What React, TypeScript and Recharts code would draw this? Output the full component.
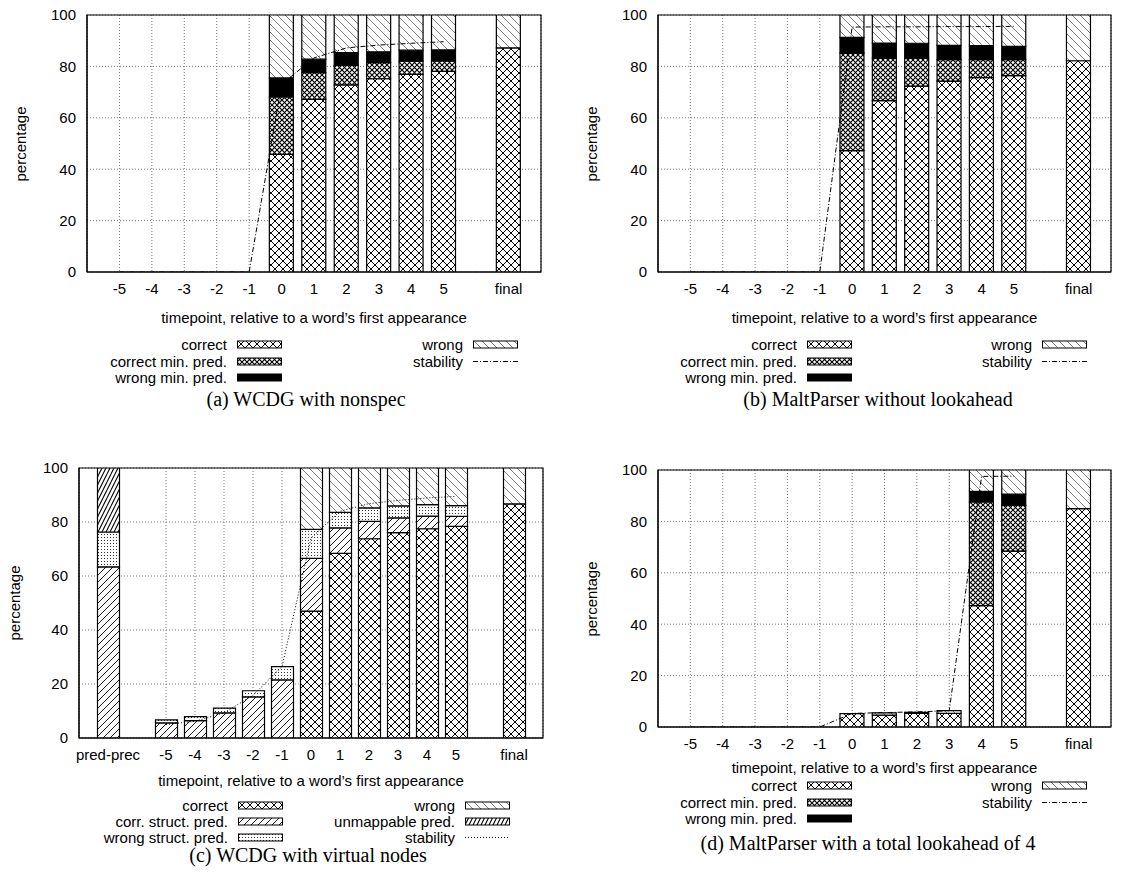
import React from 'react';
import { ComposedChart, Bar, Line, XAxis, YAxis, CartesianGrid, ReferenceArea } from 'recharts';

const SANS = '"Liberation Sans", Arial, Helvetica, sans-serif';
const SERIF = '"Liberation Serif", "Times New Roman", Times, serif';
const FS = 15;

const TIMEPOINTS = ['-5', '-4', '-3', '-2', '-1', '0', '1', '2', '3', '4', '5', 'final'];
const TIMEPOINTS_C = ['pred-prec', ...TIMEPOINTS];
const Y_TICKS = [0, 20, 40, 60, 80, 100];

// (a) WCDG with nonspec
const A_CORRECT = [0, 0, 0, 0, 0, 45.8, 67.2, 72.8, 75.2, 76.9, 78.1, 87.2];
const A_CORR_MIN = [0, 0, 0, 0, 0, 22.3, 10.4, 7.6, 6.3, 5.1, 4.0, 0];
const A_WRONG_MIN = [0, 0, 0, 0, 0, 7.4, 5.2, 5.0, 4.2, 4.3, 4.3, 0];
const A_WRONG = [0, 0, 0, 0, 0, 24.5, 17.2, 14.6, 14.3, 13.7, 13.6, 12.8];
const A_STABILITY = [0, 0, 0, 0, 0, 73.0, 83.3, 87.2, 88.3, 89.0, 89.6, null];

// (b) MaltParser without lookahead
const B_CORRECT = [0, 0, 0, 0, 0, 47.2, 66.7, 72.3, 74.3, 75.6, 76.4, 82.2];
const B_CORR_MIN = [0, 0, 0, 0, 0, 38.0, 16.5, 10.9, 8.3, 7.0, 6.2, 0];
const B_WRONG_MIN = [0, 0, 0, 0, 0, 6.1, 5.9, 5.8, 5.6, 5.5, 5.2, 0];
const B_WRONG = [0, 0, 0, 0, 0, 8.7, 10.9, 11.0, 11.8, 11.9, 12.2, 17.8];
const B_STABILITY = [0, 0, 0, 0, 0, 95.3, 95.4, 95.4, 95.5, 95.5, 95.6, null];

// (c) WCDG with virtual nodes
const C_CORRECT = [0, 0, 0, 0, 0, 0, 47.0, 68.4, 73.8, 76.1, 77.5, 78.4, 86.7];
const C_CORR_STRUCT = [63.4, 5.6, 6.4, 9.3, 15.2, 21.5, 19.5, 9.4, 6.4, 5.4, 4.7, 3.7, 0];
const C_WRONG_STRUCT = [12.9, 1.1, 1.5, 1.8, 2.3, 4.9, 10.8, 5.8, 5.0, 4.5, 4.2, 4.0, 0];
const C_WRONG = [0, 0, 0, 0, 0, 0, 22.7, 16.4, 14.8, 14.0, 13.6, 13.9, 13.3];
const C_UNMAPPABLE = [23.7, 0, 0, 0, 0, 0, 0, 0, 0, 0, 0, 0, 0];
const C_STABILITY = [null, 5.0, 6.2, 9.3, 15.8, 26.4, 74.0, 84.0, 86.8, 88.0, 88.9, 89.5, null];

// (d) MaltParser with a total lookahead of 4
const D_CORRECT = [0, 0, 0, 0, 0, 5.2, 4.6, 5.3, 5.3, 47.2, 68.4, 85.0];
const D_CORR_MIN = [0, 0, 0, 0, 0, 0, 0, 0, 0, 40.4, 17.8, 0];
const D_WRONG_MIN = [0, 0, 0, 0, 0, 0, 0, 0, 0, 4.1, 4.4, 0];
const D_WRONG = [0, 0, 0, 0, 0, 0, 0.9, 0.4, 1.1, 8.3, 9.4, 15.0];
const D_STABILITY = [0, 0, 0, 0, 0, 5.3, 5.6, 5.9, 6.3, 97.5, 97.6, null];

type Num = number | null;
type Series = { key: string; name: string; fill: string };

const SERIES_MIN: Series[] = [
  { key: 'correct', name: 'correct', fill: 'url(#pat-correct)' },
  { key: 'corrMin', name: 'correct min. pred.', fill: 'url(#pat-corrmin)' },
  { key: 'wrongMin', name: 'wrong min. pred.', fill: '#000' },
  { key: 'wrong', name: 'wrong', fill: 'url(#pat-wrong)' },
];

const SERIES_STRUCT: Series[] = [
  { key: 'correct', name: 'correct', fill: 'url(#pat-correct)' },
  { key: 'corrStruct', name: 'corr. struct. pred.', fill: 'url(#pat-corrstruct)' },
  { key: 'wrongStruct', name: 'wrong struct. pred.', fill: 'url(#pat-wrongstruct)' },
  { key: 'wrong', name: 'wrong', fill: 'url(#pat-wrong)' },
  { key: 'unmappable', name: 'unmappable pred.', fill: 'url(#pat-unmap)' },
];

const slotOf = (label: string) => (label === 'final' ? 7 : label === 'pred-prec' ? -7 : Number(label));

function buildRows(labels: string[], cols: Record<string, Num[]>) {
  return labels.map((label, i) => {
    const row: Record<string, string | number | null> = { x: slotOf(label), label };
    Object.keys(cols).forEach((k) => {
      row[k] = cols[k][i];
    });
    return row;
  });
}

const DASHDOT = '5 2 1 2';
const DOTTED = '1 2';

const PANELS = [
  {
    id: 'a',
    plot: { x: 87, y: 15, w: 454, h: 257 },
    xDomain: [-6, 8],
    labels: TIMEPOINTS,
    series: SERIES_MIN,
    rows: buildRows(TIMEPOINTS, {
      correct: A_CORRECT, corrMin: A_CORR_MIN, wrongMin: A_WRONG_MIN, wrong: A_WRONG, stability: A_STABILITY,
    }),
    barSize: 24,
    dash: DASHDOT,
    yLabelX: 20,
    titleY: 316.5,
    legend: { leftX: 227, rightX: 463, rows: [344, 361, 377] },
    caption: '(a) WCDG with nonspec',
    captionX: 306,
    captionY: 399,
  },
  {
    id: 'b',
    plot: { x: 658, y: 15, w: 453, h: 257 },
    xDomain: [-6, 8],
    labels: TIMEPOINTS,
    series: SERIES_MIN,
    rows: buildRows(TIMEPOINTS, {
      correct: B_CORRECT, corrMin: B_CORR_MIN, wrongMin: B_WRONG_MIN, wrong: B_WRONG, stability: B_STABILITY,
    }),
    barSize: 24,
    dash: DASHDOT,
    yLabelX: 591,
    titleY: 316.5,
    legend: { leftX: 797, rightX: 1032, rows: [344, 361, 377] },
    caption: '(b) MaltParser without lookahead',
    captionX: 878,
    captionY: 399,
  },
  {
    id: 'c',
    plot: { x: 79, y: 468, w: 464, h: 270 },
    xDomain: [-8, 8],
    labels: TIMEPOINTS_C,
    series: SERIES_STRUCT,
    rows: buildRows(TIMEPOINTS_C, {
      correct: C_CORRECT, corrStruct: C_CORR_STRUCT, wrongStruct: C_WRONG_STRUCT, wrong: C_WRONG,
      unmappable: C_UNMAPPABLE, stability: C_STABILITY,
    }),
    barSize: 22,
    dash: DOTTED,
    yLabelX: 14,
    titleY: 780,
    legend: { leftX: 228, rightX: 455, rows: [805, 821, 837] },
    caption: '(c) WCDG with virtual nodes',
    captionX: 308,
    captionY: 855,
  },
  {
    id: 'd',
    plot: { x: 658, y: 470, w: 453, h: 257 },
    xDomain: [-6, 8],
    labels: TIMEPOINTS,
    series: SERIES_MIN,
    rows: buildRows(TIMEPOINTS, {
      correct: D_CORRECT, corrMin: D_CORR_MIN, wrongMin: D_WRONG_MIN, wrong: D_WRONG, stability: D_STABILITY,
    }),
    barSize: 24,
    dash: DASHDOT,
    yLabelX: 591,
    titleY: 767,
    legend: { leftX: 797, rightX: 1032, rows: [785, 802, 818] },
    caption: '(d) MaltParser with a total lookahead of 4',
    captionX: 868,
    captionY: 843,
  },
];

type PanelCfg = (typeof PANELS)[number];

function Patterns() {
  return (
    <svg width={0} height={0} style={{ position: 'absolute' }}>
      <defs>
        <pattern id="pat-correct" width={8} height={8} patternUnits="userSpaceOnUse">
          <rect width={8} height={8} fill="#fff" />
          <path d="M0,0 L8,8 M8,0 L0,8" stroke="#000" strokeWidth={1} />
        </pattern>
        <pattern id="pat-corrmin" width={5} height={5} patternUnits="userSpaceOnUse">
          <rect width={5} height={5} fill="#fff" />
          <path d="M0,0 L5,5 M5,0 L0,5" stroke="#000" strokeWidth={1.15} />
        </pattern>
        <pattern id="pat-wrong" width={8} height={8} patternUnits="userSpaceOnUse">
          <rect width={8} height={8} fill="#fff" />
          <path d="M0,0 L8,8 M-2,6 L2,10 M6,-2 L10,2" stroke="#444" strokeWidth={0.7} />
        </pattern>
        <pattern id="pat-corrstruct" width={7} height={7} patternUnits="userSpaceOnUse">
          <rect width={7} height={7} fill="#fff" />
          <path d="M0,7 L7,0 M-2,2 L2,-2 M5,9 L9,5" stroke="#000" strokeWidth={0.9} />
        </pattern>
        <pattern id="pat-wrongstruct" width={3} height={3} patternUnits="userSpaceOnUse">
          <rect width={3} height={3} fill="#fff" />
          <rect x={1} y={1} width={1} height={1} fill="#333" />
        </pattern>
        <pattern id="pat-unmap" width={4} height={8} patternUnits="userSpaceOnUse">
          <rect width={4} height={8} fill="#fff" />
          <path d="M0,8 L4,0 M-1,2 L0,0 M4,8 L5,6" stroke="#000" strokeWidth={1.1} />
        </pattern>
      </defs>
    </svg>
  );
}

const textBase: React.CSSProperties = {
  position: 'absolute',
  fontFamily: SANS,
  fontSize: FS,
  lineHeight: '1',
  whiteSpace: 'nowrap',
  color: '#000',
};

function LegendEntry({ x, y, name, fill, dash }: { x: number; y: number; name: string; fill?: string; dash?: string }) {
  return (
    <>
      <div style={{ ...textBase, left: x, top: y, transform: 'translate(-100%, -50%)' }}>{name}</div>
      <svg width={46} height={9} style={{ position: 'absolute', left: x + 10, top: y - 4.5 }}>
        {dash ? (
          <line x1={0} x2={45} y1={4.5} y2={4.5} stroke="#000" strokeWidth={1} strokeDasharray={dash} />
        ) : (
          <rect x={0.5} y={1} width={44} height={7} fill={fill} stroke="#000" strokeWidth={1} />
        )}
      </svg>
    </>
  );
}

function Panel({ cfg }: { cfg: PanelCfg }) {
  const { plot } = cfg;
  const AX_W = 60;
  const TOP = 10;
  const RIGHT = 10;
  const AX_H = 40;
  const ticks = cfg.labels.map(slotOf);
  const fmt = (v: number) => cfg.labels.find((l) => slotOf(l) === v) ?? '';
  const tickStyle = { fill: '#000', fontSize: FS, fontFamily: SANS };
  const leftCol = cfg.series.filter((s) => s.key !== 'wrong' && s.key !== 'unmappable');
  const rightCol = cfg.series.filter((s) => s.key === 'wrong' || s.key === 'unmappable');

  return (
    <>
      <div style={{ position: 'absolute', left: plot.x - AX_W, top: plot.y - TOP }}>
        <ComposedChart
          width={plot.w + AX_W + RIGHT}
          height={plot.h + TOP + AX_H}
          data={cfg.rows}
          margin={{ top: TOP, right: RIGHT, left: 0, bottom: 0 }}
        >
          <CartesianGrid stroke="#777" strokeDasharray="1 2" strokeWidth={1} />
          <XAxis
            dataKey="x"
            type="number"
            domain={cfg.xDomain}
            ticks={ticks}
            tickFormatter={fmt}
            interval={0}
            allowDataOverflow
            height={AX_H}
            tickSize={0}
            tickMargin={11}
            tick={tickStyle}
            axisLine={{ stroke: '#000' }}
          />
          <YAxis
            type="number"
            domain={[0, 100]}
            ticks={Y_TICKS}
            interval={0}
            allowDataOverflow
            width={AX_W}
            tickSize={0}
            tickMargin={11}
            tick={tickStyle}
            axisLine={{ stroke: '#000' }}
          />
          {cfg.series.map((s) => (
            <Bar
              key={s.key}
              dataKey={s.key}
              stackId="t"
              fill={s.fill}
              stroke="#000"
              strokeWidth={1.2}
              barSize={cfg.barSize}
              isAnimationActive={false}
            />
          ))}
          <Line
            dataKey="stability"
            type="linear"
            stroke="#000"
            strokeWidth={1}
            strokeDasharray={cfg.dash}
            dot={false}
            activeDot={false}
            isAnimationActive={false}
          />
          <ReferenceArea
            x1={cfg.xDomain[0]}
            x2={cfg.xDomain[1]}
            y1={0}
            y2={100}
            fill="none"
            fillOpacity={0}
            stroke="#000"
            strokeWidth={1.2}
          />
        </ComposedChart>
      </div>

      <div
        style={{
          ...textBase,
          left: cfg.yLabelX,
          top: plot.y + plot.h / 2,
          transform: 'translate(-50%, -50%) rotate(-90deg)',
        }}
      >
        percentage
      </div>

      <div style={{ ...textBase, left: plot.x + plot.w / 2, top: cfg.titleY, transform: 'translate(-50%, -50%)' }}>
        timepoint, relative to a word’s first appearance
      </div>

      {leftCol.map((s, i) => (
        <LegendEntry key={s.key} x={cfg.legend.leftX} y={cfg.legend.rows[i]} name={s.name} fill={s.fill} />
      ))}
      {rightCol.map((s, i) => (
        <LegendEntry key={s.key} x={cfg.legend.rightX} y={cfg.legend.rows[i]} name={s.name} fill={s.fill} />
      ))}
      <LegendEntry x={cfg.legend.rightX} y={cfg.legend.rows[rightCol.length]} name="stability" dash={cfg.dash} />

      <div
        style={{
          ...textBase,
          fontFamily: SERIF,
          fontSize: 20,
          left: cfg.captionX,
          top: cfg.captionY,
          transform: 'translate(-50%, -50%)',
        }}
      >
        {cfg.caption}
      </div>
    </>
  );
}

export default function App() {
  return (
    <div style={{ position: 'absolute', left: 0, top: 0, width: 1133, height: 876, background: '#fff', overflow: 'hidden' }}>
      <Patterns />
      {PANELS.map((p) => (
        <Panel key={p.id} cfg={p} />
      ))}
    </div>
  );
}
